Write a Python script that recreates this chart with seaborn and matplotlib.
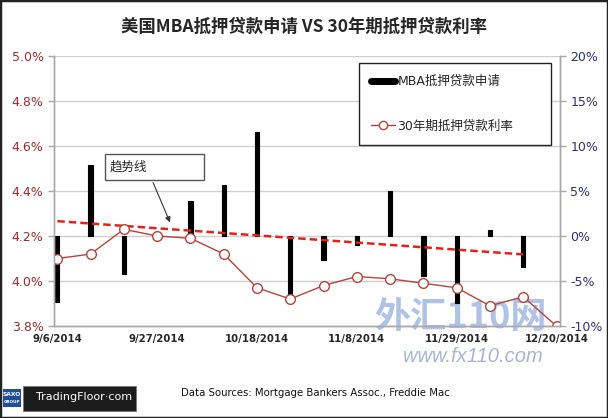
import numpy as np
import matplotlib
matplotlib.use('Agg')
import matplotlib.pyplot as plt
import seaborn as sns
from matplotlib.patches import Rectangle
from matplotlib.lines import Line2D
from matplotlib.ticker import FuncFormatter

# ─────────────────────────────
#  DATA
# ─────────────────────────────
weeks = ['9/6/2014', '9/13/2014', '9/20/2014', '9/27/2014', '10/4/2014',
         '10/11/2014', '10/18/2014', '10/25/2014', '11/1/2014', '11/8/2014',
         '11/15/2014', '11/22/2014', '11/29/2014', '12/6/2014', '12/13/2014',
         '12/20/2014']
rate_30y = [4.10, 4.12, 4.23, 4.20, 4.19, 4.12, 3.97, 3.92,
            3.98, 4.02, 4.01, 3.99, 3.97, 3.89, 3.93, 3.80]
mba_apps = [-7.3, 7.9, -4.2, 0.0, 3.9, 5.7, 11.6, -7.3,
            -2.7, -1.0, 5.0, -4.4, -7.4, 0.7, -3.4]
tick_weeks = weeks[::3]

title = '美国MBA抵押贷款申请 VS 30年期抵押贷款利率'
label_apps = 'MBA抵押贷款申请'
label_rate = '30年期抵押贷款利率'

# ─────────────────────────────
#  STYLE
# ─────────────────────────────
sns.set_style('white')
plt.rcParams['font.family'] = ['DejaVu Sans', 'Noto Sans CJK SC']

rate_color  = '#B5433D'
trend_color = '#E5201B'
left_color  = '#9E2A2E'
right_color = '#2E2E70'
spine_color = '#A8A8A8'

x_rate = np.arange(len(rate_30y))
x_apps = np.arange(len(mba_apps))

fig = plt.figure(figsize=(6.08, 4.18), dpi=100)
ax = fig.add_axes([0.0888, 0.220, 0.832, 0.646])
ax2 = ax.twinx()
ax.set_zorder(ax2.get_zorder() + 1)
ax.patch.set_visible(False)

# bars + trend on the right axis
ax2.yaxis.grid(True, color='#CFCFCF', lw=1)
ax2.set_axisbelow(True)
sns.barplot(x=x_apps, y=mba_apps, native_scale=True, width=0.13,
            color='black', saturation=1, ax=ax2, zorder=2,
            edgecolor='black', linewidth=0.8)
sns.regplot(x=x_apps, y=mba_apps, scatter=False, ci=None, truncate=True, ax=ax2,
            line_kws=dict(color=trend_color, lw=1.8, ls=(0, (3, 1.6)), zorder=3))

# rate line on the left axis
sns.lineplot(x=x_rate, y=rate_30y, ax=ax, color=rate_color, lw=1,
             marker='o', markersize=7, markerfacecolor='white',
             markeredgecolor=rate_color, markeredgewidth=1)

ax.set_xlim(-0.1, 15.1)
ax.set_ylim(3.8, 5.0)
ax2.set_ylim(-10, 20)
ax.set_yticks(np.arange(3.8, 5.01, 0.2))
ax2.set_yticks(np.arange(-10, 21, 5))
ax.yaxis.set_major_formatter(FuncFormatter(lambda v, p: f'{v:.1f}%'))
ax2.yaxis.set_major_formatter(FuncFormatter(lambda v, p: f'{v:.0f}%'))
ax.set_xticks(range(0, len(weeks), 3))
ax.set_xticklabels(tick_weeks)
ax.set_xlabel('')
ax.set_ylabel('')
ax2.set_ylabel('')
ax2.set_xlabel('')

ax.tick_params(axis='y', colors=spine_color, labelcolor=left_color,
               labelsize=9, length=4, width=1, left=True)
ax2.tick_params(axis='y', colors=spine_color, labelcolor=right_color,
                labelsize=9, length=4, width=1, right=True)
ax.tick_params(axis='x', length=0, pad=6, labelsize=7.3)
for t in ax.get_xticklabels():
    t.set_fontweight('bold')

for a in (ax, ax2):
    a.spines['top'].set_visible(False)
    for s in ('left', 'right', 'bottom'):
        a.spines[s].set_color(spine_color)
        a.spines[s].set_linewidth(1)

# ─────────────────────────────
#  LEGEND
# ─────────────────────────────
handles = [Line2D([0], [0], color='black', lw=5),
           Line2D([0], [0], color=rate_color, lw=1, marker='o', markersize=6,
                  markerfacecolor='white', markeredgecolor=rate_color)]
leg = fig.legend(handles, [label_apps, label_rate], loc='upper left',
                 bbox_to_anchor=(0.590, 0.643, 0.316, 0.207), mode='expand',
                 frameon=True, fancybox=False, fontsize=9, handlelength=1.9,
                 handletextpad=0.2, labelspacing=2.5, borderpad=1.0,
                 borderaxespad=0)
leg.get_frame().set_edgecolor('#222222')
leg.get_frame().set_linewidth(1)
leg.get_frame().set_alpha(1)

# ─────────────────────────────
#  TREND LINE CALLOUT
# ─────────────────────────────
fig.patches.append(Rectangle((105 / 608, 1 - 180 / 418), 99 / 608, 26 / 418,
                             transform=fig.transFigure, facecolor='white',
                             edgecolor='#555555', lw=1, zorder=5))
fig.text(110 / 608, 1 - 167 / 418, '趋势线', fontsize=9, ha='left', va='center',
         family=['Noto Sans CJK SC'], zorder=6)
ax.annotate('', xy=(3.42, 4.249), xycoords='data',
            xytext=(152, 418 - 180), textcoords='figure pixels',
            arrowprops=dict(arrowstyle='-|>', color='#333333', lw=0.8,
                            mutation_scale=8))

# ─────────────────────────────
#  TITLE / FOOTER / WATERMARK
# ─────────────────────────────
fig.text(0.5, 0.935, title, ha='center', va='center', fontsize=12.5,
         fontweight='bold', family=['Noto Sans CJK SC'])
fig.text(0.518, 0.060, 'Data Sources: Mortgage Bankers Assoc., Freddie Mac',
         ha='center', va='center', fontsize=7.3, color='#111111')

fig.patches.append(Rectangle((3 / 608, 1 - 407 / 418), 18 / 608, 18 / 418,
                             transform=fig.transFigure, facecolor='#1F4E9A',
                             edgecolor='none'))
fig.text(12 / 608, 1 - 394 / 418, 'SAXO', ha='center', va='center', fontsize=4.3,
         color='white', fontweight='bold')
fig.text(12 / 608, 1 - 402 / 418, 'GROUP', ha='center', va='center', fontsize=3,
         color='white', fontweight='bold')
fig.patches.append(Rectangle((23 / 608, 1 - 411 / 418), 113 / 608, 25 / 418,
                             transform=fig.transFigure, facecolor='#1C1C1C',
                             edgecolor='#777777', lw=0.6))
fig.text(84 / 608, 1 - 397 / 418, 'TradingFloor·com', ha='center', va='center',
         fontsize=8, color='white')

# watermark sits behind the (transparent) axes
fig.text(0.757, 0.240, '外汇110网', ha='center', va='center', fontsize=26,
         color='#7E9BD4', alpha=0.6, style='italic', fontweight='bold',
         family=['Noto Sans CJK SC'], zorder=-1)
fig.text(0.777, 0.146, 'www.fx110.com', ha='center', va='center', fontsize=14.5,
         color='#8A9CC4', alpha=0.75, style='italic',
         family=['Liberation Sans'], zorder=-1)

fig.patches.append(Rectangle((0, 0), 1, 1, transform=fig.transFigure,
                             fill=False, edgecolor='#222222', lw=2.5))

fig.savefig('out.png', dpi=100)
